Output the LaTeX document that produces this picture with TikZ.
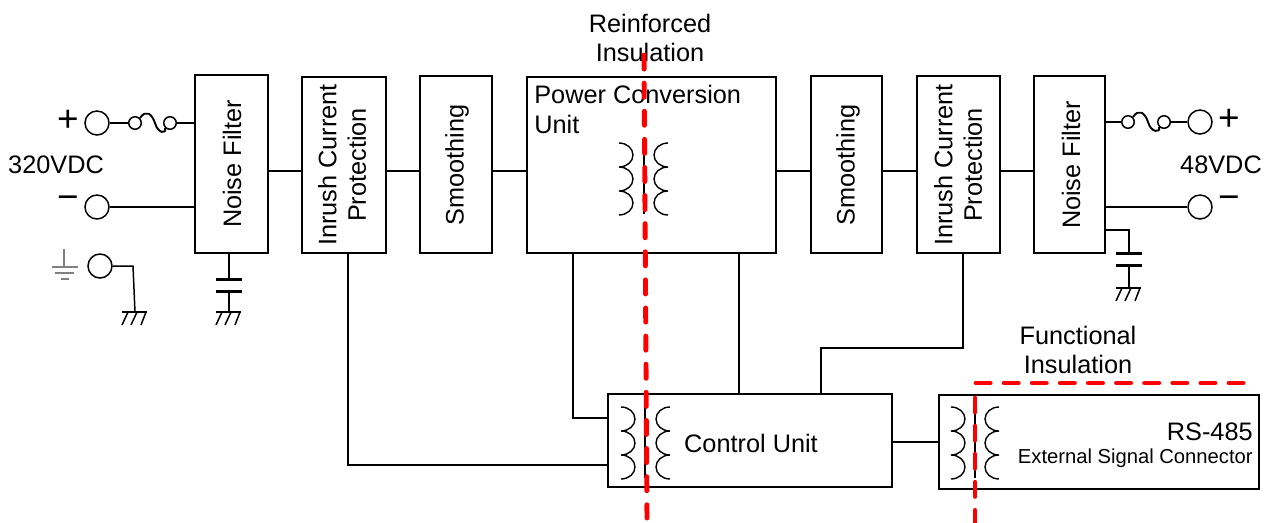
\documentclass[tikz,border=0pt]{standalone}
\usepackage{fontspec}
\setmainfont{Liberation Sans}
\usetikzlibrary{positioning,calc}

\tikzset{
    block/.style 2 args={draw,line width=.85pt,minimum width=#1*0.02cm,minimum height=#2*0.02cm,inner sep=0},
    term/.style={draw,circle,line width=.85pt,minimum size=.48cm,inner sep=0},
    fusering/.style={draw,circle,line width=.85pt,minimum size=.25cm,inner sep=0},
    txt/.style={inner sep=0,font=\fontsize{14.4}{16.8}\selectfont,align=center},
    sign/.style={inner sep=0,font=\fontsize{21}{21}\selectfont},
    wire/.style={line width=.85pt},
    plate/.style={line width=1.7pt},
    insul/.style={red,line width=2.8pt,line cap=round,dash pattern=on 8pt off 8pt},
    coil/.pic={\draw[line width=.8pt] (0,0) arc (90:-90:.28cm and .24cm) arc (90:-90:.28cm and .24cm) arc (90:-90:.28cm and .24cm);},
    gnd/.pic={
        \draw[wire] (-13,0) -- (12,0);
        \foreach \tx/\bx in {-7/-13,2/-4,11/6}
        \draw[wire] (\tx,0) -- (\bx,13);
    }
}

\begin{document}
\begin{tikzpicture}[x=0.02cm,y=-0.02cm]
    \useasboundingbox (0,0) rectangle (1272,522);

    \node[block={73}{178}] (noisel) at (231.5,164) {};
    \node[block={84}{176}] (inrushl) at (344,165) {};
    \node[block={72}{177}] (smoothl) at (456,164.5) {};
    \node[block={249}{176}] (power) at (651.5,165) {};
    \node[block={71}{177}] (smoothr) at (846.5,164.5) {};
    \node[block={83}{177}] (inrushr) at (958.5,164.5) {};
    \node[block={71}{177}] (noiser) at (1069.5,164.5) {};
    \node[block={284}{93}] (control) at (750,440.5) {};
    \node[block={320}{94}] (rs) at (1099,442) {};

    \node[txt,rotate=90] (noisellabel) at (232,164) {Noise Filter};
    \node[txt,rotate=90] (inrushllabel) at (342,165) {Inrush Current\\Protection};
    \node[txt,rotate=90] (smoothllabel) at (457,165) {Smoothing};
    \node[txt,rotate=90] (smoothrlabel) at (848,165) {Smoothing};
    \node[txt,rotate=90] (inrushrlabel) at (958,165) {Inrush Current\\Protection};
    \node[txt,rotate=90] (noiserlabel) at (1071,165) {Noise Filter};
    \node[txt,anchor=north west,align=left] (powerlabel) at (534,85) {Power Conversion\\Unit};
    \node[txt] (controllabel) at (751,443) {Control Unit};
    \node[txt,anchor=east] (rslabel) at (1253,432) {RS-485};
    \node[txt,anchor=east,font=\fontsize{11.5}{14}\selectfont] (extlabel) at (1253,458) {External Signal Connector};

    \node[txt] (reinforced) at (650,38) {Reinforced\\Insulation};
    \node[txt] (functional) at (1078,350) {Functional\\Insulation};
    \node[txt] (vin) at (56,165) {320VDC};
    \node[txt] (vout) at (1221,165) {48VDC};

    % terminals
    \node[term] (plusl) at (97,123) {};
    \node[term] (minusl) at (97,207) {};
    \node[term] (earthl) at (100,266) {};
    \node[term] (plusr) at (1200,122) {};
    \node[term] (minusr) at (1200,207) {};
    \node[sign] (plusllabel) at (68,121) {+};
    \node[sign] (minusllabel) at (68,203) {−};
    \node[sign] (plusrlabel) at (1229,120) {+};
    \node[sign] (minusrlabel) at (1229,203) {−};

    % fuses
    \node[fusering] (fusel1) at (135,123) {};
    \node[fusering] (fusel2) at (170,123) {};
    \node[fusering] (fuser1) at (1128,122) {};
    \node[fusering] (fuser2) at (1164,122) {};
    \draw[line width=1.1pt] (fusel1.45) .. controls (146,109) and (152,114) .. (155,123) .. controls (158,134) and (167,134) .. (fusel2.south west);
    \draw[line width=1.1pt] (fuser1.45) .. controls (1139,108) and (1145,113) .. (1148,122) .. controls (1151,133) and (1161,133) .. (fuser2.south west);

    \draw[wire] (plusl) -- (fusel1);
    \draw[wire] (fusel2) -- (fusel2 -| noisel.west);
    \draw[wire] (minusl) -- (minusl -| noisel.west);
    \draw[wire] (fuser1) -- (fuser1 -| noiser.east);
    \draw[wire] (fuser2) -- (plusr);
    \draw[wire] (minusr) -- (minusr -| noiser.east);

    % main power path
    \foreach \from/\to in {noisel/inrushl,inrushl/smoothl,smoothl/power,power/smoothr,smoothr/inrushr,inrushr/noiser}
    \draw[wire] (\from.east |- 0,171) -- (\to.west |- 0,171);

    % earth and capacitors
    \coordinate (earthbend) at (133,266);
    \coordinate (gnda) at (135,312);
    \coordinate (gndb) at (229,312);
    \coordinate (gndc) at (1129,288);
    \coordinate (capltop) at (229,279);
    \coordinate (caplbot) at (229,291);
    \coordinate (caprtop) at (1129,253);
    \coordinate (caprbot) at (1129,265);
    \coordinate (caprbend) at (1129,230);
    \draw[wire] (earthl) -- (earthbend) -- (gnda);
    \draw[wire] (capltop |- noisel.south) -- (capltop);
    \draw[wire] (caplbot) -- (gndb);
    \draw[wire] (caprbend -| noiser.east) -- (caprbend) -- (caprtop);
    \draw[wire] (caprbot) -- (gndc);
    \foreach \pl in {capltop,caplbot,caprtop,caprbot}
    \draw[plate] (\pl) ++(-13,0) -- ++(26,0);
    \pic at (gnda) {gnd};
    \pic at (gndb) {gnd};
    \pic at (gndc) {gnd};

    \coordinate (earthsym) at (64,249);
    \draw[gray,line width=.7pt] (earthsym) -- (64,267) (52,267) -- (78,267) (55,273) -- (74,273) (61,279) -- (69,279);

    % control wiring
    \coordinate (ctla) at (348,465);
    \coordinate (ctlb) at (573,418);
    \coordinate (ctlc) at (739,394);
    \coordinate (ctld) at (963,348);
    \coordinate (ctle) at (821,348);
    \draw[wire] (ctla |- inrushl.south) -- (ctla) -- (ctla -| control.west);
    \draw[wire] (ctlb |- power.south) -- (ctlb) -- (ctlb -| control.west);
    \draw[wire] (ctlc |- power.south) -- (ctlc |- control.north);
    \draw[wire] (ctld |- inrushr.south) -- (ctld) -- (ctle) -- (ctle |- control.north);
    \draw[wire] (control.east |- 0,442) -- (rs.west |- 0,442);

    % transformers
    \pic at (619,143) {coil};
    \pic[xscale=-1] at (668,143) {coil};
    \pic at (621,407) {coil};
    \pic[xscale=-1] at (670,407) {coil};
    \pic at (951,407) {coil};
    \pic[xscale=-1] at (999,407) {coil};
    \coordinate (corea) at (644,143);
    \coordinate (coreb) at (645,407);
    \coordinate (corec) at (975,407);
    \foreach \core/\len in {corea/71,coreb/71,corec/71}
    \draw[line width=1.1pt] (\core) -- ++(0,\len);

    % insulation barriers
    \coordinate (reina) at (644,55);
    \coordinate (reinb) at (647,518);
    \coordinate (funca) at (976,383);
    \coordinate (funcb) at (1244,383);
    \coordinate (funcc) at (975,398);
    \coordinate (funcd) at (975,522);
    \draw[insul] (reina) -- (reinb);
    \draw[insul] (funca) -- (funcb);
    \draw[insul] (funcc) -- (funcd);
\end{tikzpicture}
\end{document}
